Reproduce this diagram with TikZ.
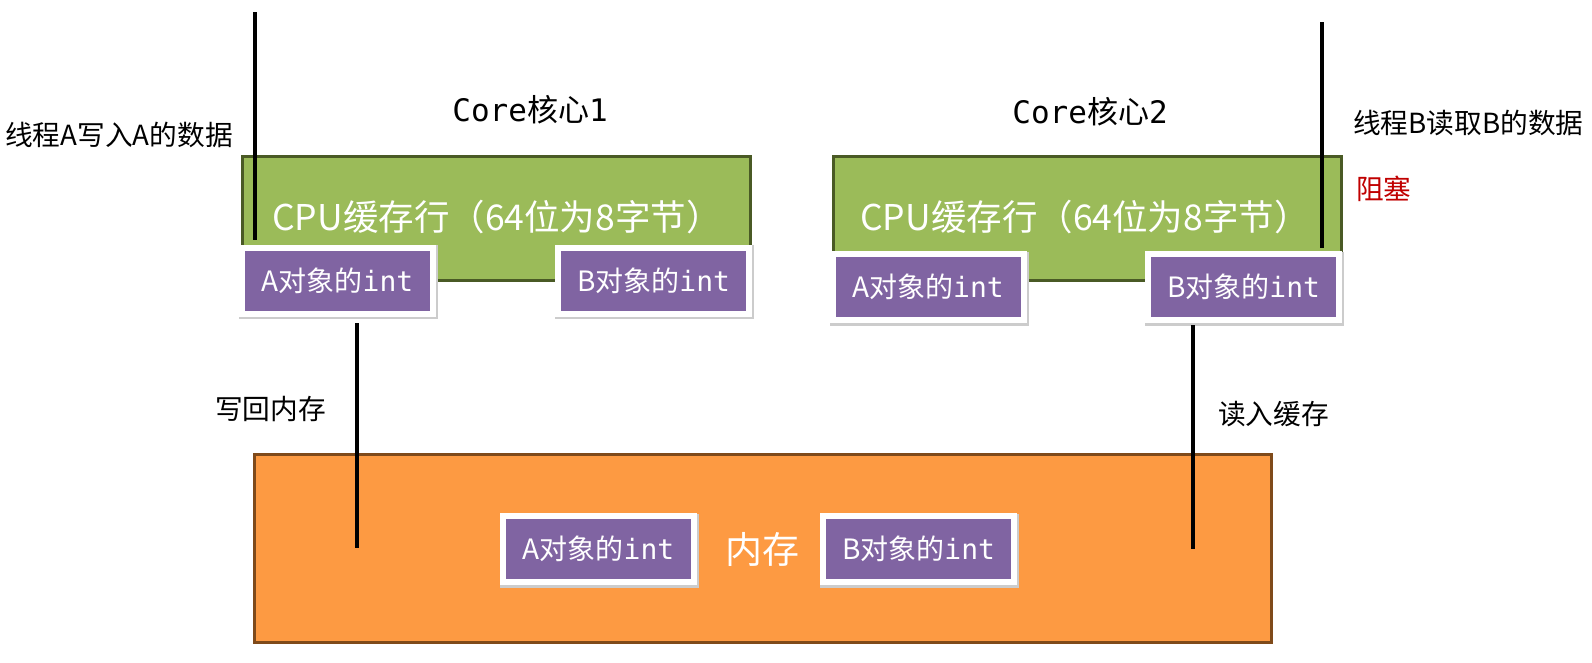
\documentclass[tikz,border=0pt]{standalone}
\usepackage{fontspec}
\setmainfont{Noto Sans CJK SC}
\newfontfamily\monofont{DejaVu Sans Mono}
\definecolor{cgreen}{HTML}{9BBB59}
\definecolor{cgreenb}{HTML}{4A5A25}
\definecolor{cpurple}{HTML}{8064A2}
\definecolor{corange}{HTML}{FD9A42}
\definecolor{coranged}{HTML}{7F4A1A}
\definecolor{cred}{HTML}{C00000}
\tikzset{
  cachebox/.style={draw=cgreenb, line width=3pt, fill=cgreen, anchor=north west, inner sep=0pt},
  membox/.style={draw=coranged, line width=3pt, fill=corange, anchor=north west, inner sep=0pt},
  intbox/.style={draw=white, line width=6pt, fill=cpurple, minimum width=191pt, minimum height=66pt,
    inner sep=0pt, text=white, font=\fontsize{28}{33}\selectfont,
    preaction={draw=black!20, line width=8pt, transform canvas={shift={(1pt,-1.5pt)}}}},
  lbl/.style={inner sep=0pt, font=\fontsize{27.7}{32}\selectfont},
  cpulbl/.style={inner sep=0pt, text=white, font=\fontsize{35.5}{41}\selectfont},
  wire/.style={line width=4pt, black}
}
\begin{document}
\begin{tikzpicture}[x=1pt,y=-1pt]
\useasboundingbox (0,0) rectangle (1592,662);
% caches
\node[cachebox, minimum width=508pt, minimum height=124pt] (g1) at (241,155) {};
\node[cachebox, minimum width=508pt, minimum height=124pt] (g2) at (832,155) {};
\node[cpulbl] (c1) at (497,217) {CPU缓存行（64位为8字节）};
\node[cpulbl] (c2) at (1085,217) {CPU缓存行（64位为8字节）};
% memory
\node[membox, minimum width=1017pt, minimum height=188pt] (mem) at (253,453) {};
\node[inner sep=0pt, text=white, font=\fontsize{37}{43}\selectfont] (memlbl) at (762,549) {内存};
% thread lines
\coordinate (ta0) at (255,12);
\coordinate (ta1) at (255,240);
\coordinate (tb0) at (1322,22);
\coordinate (tb1) at (1322,248);
\draw[wire] (ta0) -- (ta1);
\draw[wire] (tb0) -- (tb1);
% int boxes
\node[intbox] (a1) at (337.5,280.5) {A对象的{\monofont int}};
\node[intbox] (b1) at (653.5,280.5) {B对象的{\monofont int}};
\node[intbox] (a2) at (928,287) {A对象的{\monofont int}};
\node[intbox] (b2) at (1243.5,287) {B对象的{\monofont int}};
\node[intbox] (ma) at (598.5,549) {A对象的{\monofont int}};
\node[intbox] (mb) at (918.5,549) {B对象的{\monofont int}};
% memory lines
\coordinate (wa0) at (357,323);
\coordinate (wa1) at (357,548);
\coordinate (rb0) at (1193,325);
\coordinate (rb1) at (1193,549);
\draw[wire] (wa0) -- (wa1);
\draw[wire] (rb0) -- (rb1);
% labels
\node[lbl, font=\fontsize{31}{36}\selectfont] (core1) at (530,110) {{\monofont Core}核心{\monofont 1}};
\node[lbl, font=\fontsize{31}{36}\selectfont] (core2) at (1090,112) {{\monofont Core}核心{\monofont 2}};
\node[lbl, anchor=west] (tA) at (5,135) {线程A写入A的数据};
\node[lbl, anchor=west] (tB) at (1353,123) {线程B读取B的数据};
\node[lbl, anchor=west, text=cred] (blk) at (1356,189) {阻塞};
\node[lbl, anchor=west] (wb) at (215,409) {写回内存};
\node[lbl, anchor=west] (rd) at (1218,414) {读入缓存};
\end{tikzpicture}
\end{document}
